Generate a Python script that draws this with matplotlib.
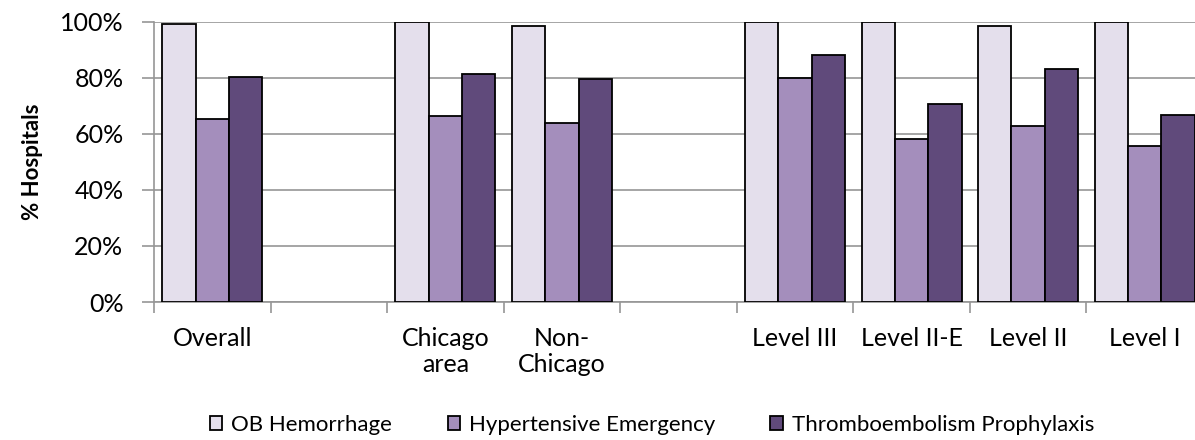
import matplotlib
matplotlib.use("Agg")
import matplotlib.pyplot as plt
import numpy as np
from matplotlib.ticker import FuncFormatter, MultipleLocator, FixedLocator

categories = ["Overall", "", "Chicago\narea", "Non-\nChicago", "", "Level III", "Level II-E", "Level II", "Level I"]
ob_hemorrhage = [99.3, None, 100, 98.5, None, 100, 100, 98.5, 100]
hypertensive = [65.2, None, 66.2, 63.8, None, 80.0, 58.3, 62.7, 55.6]
thrombo = [80.4, None, 81.5, 79.5, None, 88.1, 70.8, 83.1, 66.7]
series_names = ["OB Hemorrhage", "Hypertensive Emergency", "Thromboembolism Prophylaxis"]
colors = ["#E4DFEC", "#A48EBC", "#604A7B"]

plt.rcParams['font.family'] = ['Lato', 'DejaVu Sans']

fig = plt.figure(figsize=(11.95, 4.4), dpi=100)
ax = fig.add_axes([154/1195, 1-302/440, (1203-154)/1195, (302-21.7)/440])

x = np.arange(len(categories))
w = 0.286
for i, (vals, name, c) in enumerate(zip([ob_hemorrhage, hypertensive, thrombo], series_names, colors)):
    xs = [xi + (i - 1) * w for xi, v in zip(x, vals) if v is not None]
    ys = [v for v in vals if v is not None]
    ax.bar(xs, ys, width=w, color=c, edgecolor="black", linewidth=1.3, label=name, zorder=3)

ax.set_xlim(-0.5, len(categories) - 0.5)
ax.set_ylim(0, 100)
ax.yaxis.set_major_locator(MultipleLocator(20))
ax.yaxis.set_major_formatter(FuncFormatter(lambda v, p: f"{int(v)}%"))
ax.grid(axis="y", color="#969696", linewidth=1.2, zorder=0)
for s in ["top", "right"]:
    ax.spines[s].set_visible(False)
for s in ["left", "bottom"]:
    ax.spines[s].set_color("#969696")
    ax.spines[s].set_linewidth(1.2)

ax.set_xticks(x)
ax.set_xticklabels(categories, fontsize=18, linespacing=1.15)
ax.tick_params(axis="x", which="major", length=0, pad=18)
ax.xaxis.set_minor_locator(FixedLocator(np.arange(-0.5, len(categories), 1.0)))
ax.tick_params(axis="x", which="minor", length=8, width=1.2, color="#969696")
ax.tick_params(axis="y", length=9, width=1.2, color="#969696", labelsize=18, pad=13)

ax.set_ylabel("% Hospitals", fontsize=16, fontweight="bold", labelpad=12)

handles, labels = ax.get_legend_handles_labels()
fig.legend(handles, labels, loc="center", bbox_to_anchor=(652/1195, 1-425/440), ncol=3,
           frameon=False, fontsize=16, handlelength=0.55, handleheight=0.55,
           handletextpad=0.4, columnspacing=2.5)

fig.savefig("out.png", dpi=100)
